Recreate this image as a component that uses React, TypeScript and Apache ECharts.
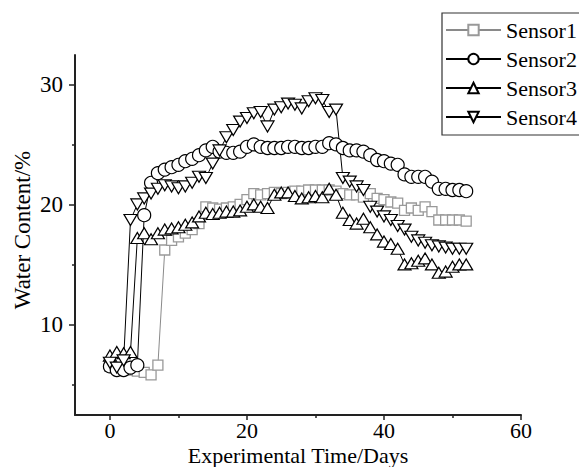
import React, { useEffect, useRef } from "react";
import * as echarts from "echarts";

const days = [0, 1, 2, 3, 4, 5, 6, 7, 8, 9, 10, 11, 12, 13, 14, 15, 16, 17, 18, 19, 20, 21, 22, 23, 24, 25, 26, 27, 28, 29, 30, 31, 32, 33, 34, 35, 36, 37, 38, 39, 40, 41, 42, 43, 44, 45, 46, 47, 48, 49, 50, 51, 52];

const sensor1 = [6.5, 6.3, 6.2, 6.2, 6.1, 6.0, 5.8, 6.6, 16.2, 17.0, 17.3, 17.6, 17.9, 18.4, 19.8, 19.7, 19.6, 19.7, 19.8, 20.0, 20.4, 20.9, 20.8, 20.9, 21.0, 20.9, 21.0, 21.1, 21.1, 21.2, 21.2, 21.2, 21.2, 21.1, 20.9, 20.8, 20.8, 20.6, 20.9, 20.5, 20.4, 20.2, 20.1, 19.5, 19.7, 19.5, 19.8, 19.4, 18.7, 18.7, 18.7, 18.7, 18.6];
const sensor2 = [6.5, 6.2, 6.2, 6.4, 6.6, 19.1, 21.8, 22.6, 22.9, 23.1, 23.3, 23.6, 23.8, 24.1, 24.5, 24.8, 24.4, 24.3, 24.3, 24.4, 24.8, 25.0, 24.8, 24.7, 24.7, 24.7, 24.8, 24.8, 24.7, 24.7, 24.8, 24.8, 25.1, 25.0, 24.7, 24.5, 24.5, 24.4, 24.1, 23.7, 23.6, 23.4, 23.3, 22.5, 22.3, 22.3, 22.3, 21.9, 21.3, 21.3, 21.2, 21.2, 21.1];
const sensor3 = [7.4, 7.7, 7.6, 7.7, 17.2, 17.6, 17.1, 17.6, 17.9, 18.0, 18.1, 18.3, 18.5, 19.0, 19.3, 19.2, 19.3, 19.4, 19.4, 19.5, 19.8, 20.0, 19.8, 19.7, 20.8, 21.0, 21.0, 20.7, 20.5, 20.6, 20.7, 20.6, 21.3, 20.8, 19.3, 18.7, 18.4, 18.8, 18.1, 17.5, 16.9, 16.7, 16.3, 15.0, 15.1, 15.3, 15.5, 15.0, 14.3, 14.4, 14.8, 15.0, 15.0];
const sensor4 = [6.8, 6.4, 7.0, 18.7, 20.0, 20.5, 20.9, 21.3, 21.6, 21.5, 21.35, 21.5, 21.8, 22.3, 22.2, 23.4, 24.5, 25.6, 26.2, 26.9, 27.2, 27.6, 27.7, 26.5, 27.9, 28.1, 28.4, 28.3, 28.0, 28.6, 28.85, 28.7, 27.7, 27.9, 22.2, 21.9, 21.5, 21.2, 19.8, 19.4, 19.0, 18.7, 18.2, 17.9, 17.3, 17.0, 16.8, 16.6, 16.5, 16.4, 16.3, 16.3, 16.3];

const seriesNames = ["Sensor1", "Sensor2", "Sensor3", "Sensor4"];
const xMajorTicks = [0, 20, 40, 60];
const xMinorTicks = [10, 30, 50];
const yMajorTicks = [10, 20, 30];
const yMinorTicks = [5, 15, 25];

const FONT = "Liberation Serif";
const AXIS_COLOR = "#222";

function pairs(vals: number[]) {
  return days.map((d, i) => [d, vals[i]]);
}

export default function App() {
  const ref = useRef<HTMLDivElement>(null);
  useEffect(() => {
    if (!ref.current) return;
    const chart = echarts.init(ref.current, undefined, { renderer: "svg" });
    const xRange = { min: -5.1, max: 60 };
    const yRange = { min: 2.45, max: 32.45 };
    const legendText = { fontFamily: FONT, fontSize: 22, color: "#000" };
    const blackSeries = (name: string, vals: number[], symbol: string, size: any, rotate = 0) => ({
      name,
      type: "line",
      data: pairs(vals),
      symbol,
      symbolSize: size,
      symbolRotate: rotate,
      showAllSymbol: true,
      lineStyle: { color: "#000", width: 1 },
      itemStyle: { color: "#fff", borderColor: "#000", borderWidth: 1.2 },
      emphasis: { disabled: true },
    });
    chart.setOption({
      animation: false,
      backgroundColor: "#fff",
      textStyle: { fontFamily: FONT },
      grid: { left: 75, right: 58, top: 55, bottom: 52, containLabel: false, outerBoundsMode: "none" },
      legend: {
        orient: "vertical",
        left: 442,
        top: 13,
        padding: [6, 3, 7, 3],
        itemWidth: 55,
        itemHeight: 13,
        itemGap: 7,
        borderColor: "#333",
        borderWidth: 1.2,
        borderRadius: 0,
        data: seriesNames.map((n) => ({ name: n, textStyle: legendText })),
        textStyle: legendText,
      },
      xAxis: [
        {
          type: "value",
          ...xRange,
          position: "bottom",
          axisLine: { show: true, onZero: false, lineStyle: { color: AXIS_COLOR, width: 2 } },
          axisTick: { show: true, length: 5, customValues: xMajorTicks, lineStyle: { color: AXIS_COLOR, width: 1.5 } },
          axisLabel: { customValues: xMajorTicks, fontFamily: FONT, fontSize: 22, lineHeight: 18, color: "#000", margin: 6 },
          splitLine: { show: false },
          name: "Experimental Time/Days",
          nameLocation: "middle",
          nameGap: 30.5,
          nameMoveOverlap: false,
          nameTextStyle: { fontFamily: FONT, fontSize: 22, lineHeight: 20, color: "#000" },
        },
        {
          type: "value",
          ...xRange,
          position: "bottom",
          axisLine: { show: false, onZero: false },
          axisTick: { show: true, length: 3, customValues: xMinorTicks, lineStyle: { color: AXIS_COLOR, width: 1.5 } },
          axisLabel: { show: false },
          splitLine: { show: false },
        },
      ],
      yAxis: [
        {
          type: "value",
          ...yRange,
          position: "left",
          axisLine: { show: true, onZero: false, lineStyle: { color: AXIS_COLOR, width: 2 } },
          axisTick: { show: true, length: 6, customValues: yMajorTicks, lineStyle: { color: AXIS_COLOR, width: 1.5 } },
          axisLabel: { customValues: yMajorTicks, fontFamily: FONT, fontSize: 23, color: "#000", margin: 12 },
          splitLine: { show: false },
          name: "Water Content/%",
          nameLocation: "middle",
          nameGap: 41,
          nameMoveOverlap: false,
          nameTextStyle: { fontFamily: FONT, fontSize: 23, color: "#000", padding: [0, 0, 0, 10] },
        },
        {
          type: "value",
          ...yRange,
          position: "left",
          axisLine: { show: false, onZero: false },
          axisTick: { show: true, length: 3, customValues: yMinorTicks, lineStyle: { color: AXIS_COLOR, width: 1.5 } },
          axisLabel: { show: false },
          splitLine: { show: false },
        },
      ],
      series: [
        {
          name: seriesNames[0],
          type: "line",
          data: pairs(sensor1),
          symbol: "rect",
          symbolSize: 10,
          showAllSymbol: true,
          lineStyle: { color: "#8a8a8a", width: 1 },
          itemStyle: { color: "#fff", borderColor: "#999", borderWidth: 1.3 },
          emphasis: { disabled: true },
        },
        blackSeries(seriesNames[1], sensor2, "circle", 13),
        blackSeries(seriesNames[2], sensor3, "triangle", [13, 11]),
        blackSeries(seriesNames[3], sensor4, "triangle", [13, 11], 180),
      ],
    });
    return () => chart.dispose();
  }, []);
  return <div ref={ref} style={{ width: 579, height: 467, position: "absolute", left: 0, top: 0 }} />;
}
